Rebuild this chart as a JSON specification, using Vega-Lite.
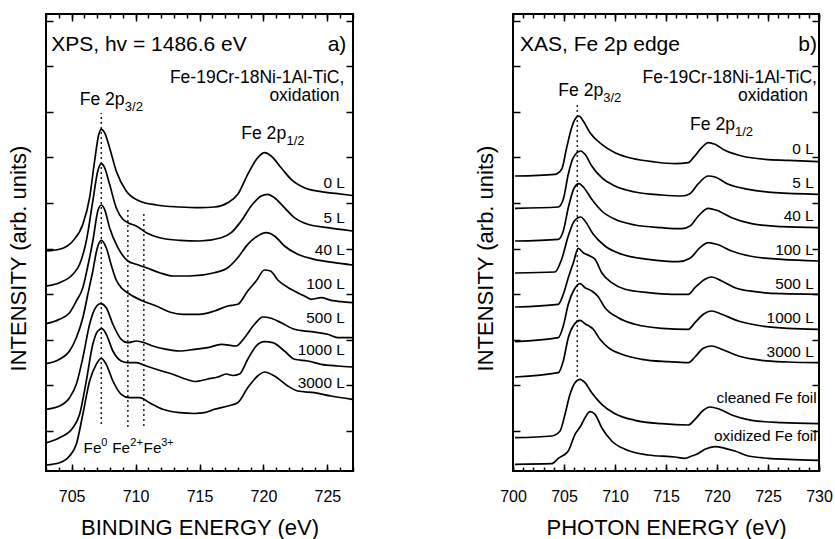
{
"$schema": "https://vega.github.io/schema/vega-lite/v6.json",
"background": "white",
"padding": {"left": 6, "top": 12, "right": 5, "bottom": 5},
"spacing": 160,
"bounds": "flush",
"config": {
  "font": "Liberation Sans",
  "view": {"stroke": "black", "strokeWidth": 2},
  "axis": {"domain": false, "grid": false, "tickColor": "black", "tickWidth": 1.5, "labelColor": "black", "titleColor": "black", "labelFont": "Liberation Sans", "titleFont": "Liberation Sans", "titleFontWeight": "normal"},
  "text": {"font": "Liberation Sans", "color": "black", "baseline": "alphabetic"}
},
"datasets": {
"xps": [
{"s":"0 L","e":703.02,"v":220},{"s":"0 L","e":704.06,"v":221.7},{"s":"0 L","e":705.10,"v":230},{"s":"0 L","e":705.88,"v":246.7},{"s":"0 L","e":706.41,"v":273.3},{"s":"0 L","e":706.80,"v":310},{"s":"0 L","e":707.13,"v":336.7},{"s":"0 L","e":707.32,"v":341.7},{"s":"0 L","e":707.58,"v":338.3},{"s":"0 L","e":707.97,"v":323.3},{"s":"0 L","e":708.49,"v":300},{"s":"0 L","e":709.27,"v":280},{"s":"0 L","e":710.31,"v":270},{"s":"0 L","e":711.62,"v":266},{"s":"0 L","e":713.44,"v":264},{"s":"0 L","e":715.00,"v":263.3},{"s":"0 L","e":716.17,"v":264},{"s":"0 L","e":717.21,"v":268.3},{"s":"0 L","e":717.99,"v":276.7},{"s":"0 L","e":718.77,"v":296.7},{"s":"0 L","e":719.55,"v":313.3},{"s":"0 L","e":720.08,"v":318.3},{"s":"0 L","e":720.60,"v":315},{"s":"0 L","e":721.38,"v":303.3},{"s":"0 L","e":722.16,"v":291.7},{"s":"0 L","e":723.20,"v":283.3},{"s":"0 L","e":724.51,"v":279.3},{"s":"0 L","e":725.80,"v":277.3},{"s":"0 L","e":726.95,"v":275.5},
{"s":"5 L","e":703.02,"v":185},{"s":"5 L","e":704.06,"v":188.3},{"s":"5 L","e":705.10,"v":196.7},{"s":"5 L","e":705.63,"v":206.7},{"s":"5 L","e":706.15,"v":230},{"s":"5 L","e":706.66,"v":270},{"s":"5 L","e":707.05,"v":300},{"s":"5 L","e":707.32,"v":307.3},{"s":"5 L","e":707.58,"v":303.3},{"s":"5 L","e":707.97,"v":286.7},{"s":"5 L","e":708.49,"v":263.3},{"s":"5 L","e":709.01,"v":251.7},{"s":"5 L","e":709.40,"v":248.3},{"s":"5 L","e":710.05,"v":245},{"s":"5 L","e":710.84,"v":238.3},{"s":"5 L","e":711.88,"v":233.3},{"s":"5 L","e":713.44,"v":230.7},{"s":"5 L","e":715.00,"v":230},{"s":"5 L","e":716.70,"v":233.3},{"s":"5 L","e":717.48,"v":238.3},{"s":"5 L","e":718.26,"v":250},{"s":"5 L","e":719.04,"v":265},{"s":"5 L","e":719.82,"v":275},{"s":"5 L","e":720.34,"v":276.7},{"s":"5 L","e":720.86,"v":273.3},{"s":"5 L","e":721.64,"v":263.3},{"s":"5 L","e":722.42,"v":253.3},{"s":"5 L","e":723.46,"v":246.7},{"s":"5 L","e":725.02,"v":243.3},{"s":"5 L","e":726.95,"v":240},
{"s":"40 L","e":703.02,"v":147.3},{"s":"40 L","e":704.06,"v":151.7},{"s":"40 L","e":704.84,"v":158.3},{"s":"40 L","e":705.37,"v":170},{"s":"40 L","e":705.88,"v":183.3},{"s":"40 L","e":706.27,"v":205},{"s":"40 L","e":706.66,"v":230},{"s":"40 L","e":707.05,"v":260},{"s":"40 L","e":707.32,"v":266},{"s":"40 L","e":707.58,"v":261.7},{"s":"40 L","e":707.97,"v":243.3},{"s":"40 L","e":708.62,"v":223.3},{"s":"40 L","e":709.40,"v":210},{"s":"40 L","e":710.05,"v":206.7},{"s":"40 L","e":710.84,"v":203.3},{"s":"40 L","e":711.88,"v":198.3},{"s":"40 L","e":712.91,"v":195},{"s":"40 L","e":714.22,"v":195},{"s":"40 L","e":716.17,"v":198.3},{"s":"40 L","e":717.21,"v":203.3},{"s":"40 L","e":717.99,"v":213.3},{"s":"40 L","e":718.77,"v":226.7},{"s":"40 L","e":719.55,"v":235},{"s":"40 L","e":720.21,"v":238.3},{"s":"40 L","e":720.86,"v":235},{"s":"40 L","e":721.64,"v":225},{"s":"40 L","e":722.68,"v":216.7},{"s":"40 L","e":723.98,"v":211.7},{"s":"40 L","e":725.55,"v":208.3},{"s":"40 L","e":726.95,"v":206},
{"s":"100 L","e":703.02,"v":107.3},{"s":"100 L","e":704.06,"v":111.7},{"s":"100 L","e":704.84,"v":120},{"s":"100 L","e":705.37,"v":133.3},{"s":"100 L","e":705.88,"v":153.3},{"s":"100 L","e":706.27,"v":176.7},{"s":"100 L","e":706.66,"v":200},{"s":"100 L","e":706.99,"v":222},{"s":"100 L","e":707.32,"v":230.7},{"s":"100 L","e":707.71,"v":223.3},{"s":"100 L","e":708.10,"v":206},{"s":"100 L","e":708.49,"v":191},{"s":"100 L","e":708.91,"v":183},{"s":"100 L","e":709.40,"v":178},{"s":"100 L","e":710.57,"v":170},{"s":"100 L","e":711.62,"v":165},{"s":"100 L","e":712.66,"v":159},{"s":"100 L","e":713.70,"v":156.7},{"s":"100 L","e":715.00,"v":156.7},{"s":"100 L","e":716.17,"v":160},{"s":"100 L","e":717.21,"v":165},{"s":"100 L","e":717.99,"v":166.7},{"s":"100 L","e":718.77,"v":180},{"s":"100 L","e":719.43,"v":190},{"s":"100 L","e":720.08,"v":201},{"s":"100 L","e":720.55,"v":200},{"s":"100 L","e":721.12,"v":191},{"s":"100 L","e":722.16,"v":181.7},{"s":"100 L","e":723.20,"v":175},{"s":"100 L","e":723.73,"v":171.7},{"s":"100 L","e":724.51,"v":173.3},{"s":"100 L","e":725.29,"v":170.7},{"s":"100 L","e":726.07,"v":169.3},{"s":"100 L","e":726.95,"v":168.3},
{"s":"500 L","e":703.02,"v":61.7},{"s":"500 L","e":704.06,"v":65},{"s":"500 L","e":704.84,"v":73.3},{"s":"500 L","e":705.37,"v":86.7},{"s":"500 L","e":705.88,"v":113.3},{"s":"500 L","e":706.41,"v":146.7},{"s":"500 L","e":706.80,"v":161.7},{"s":"500 L","e":707.27,"v":167.3},{"s":"500 L","e":707.71,"v":163.3},{"s":"500 L","e":708.23,"v":146.7},{"s":"500 L","e":708.88,"v":131.7},{"s":"500 L","e":709.40,"v":128.3},{"s":"500 L","e":710.05,"v":130},{"s":"500 L","e":710.70,"v":128.3},{"s":"500 L","e":711.35,"v":125},{"s":"500 L","e":712.40,"v":121.7},{"s":"500 L","e":713.44,"v":120},{"s":"500 L","e":714.61,"v":121.7},{"s":"500 L","e":715.65,"v":123.3},{"s":"500 L","e":716.70,"v":126.7},{"s":"500 L","e":717.87,"v":125},{"s":"500 L","e":718.52,"v":133.3},{"s":"500 L","e":719.30,"v":146.7},{"s":"500 L","e":719.95,"v":154},{"s":"500 L","e":720.60,"v":152.7},{"s":"500 L","e":721.38,"v":148.3},{"s":"500 L","e":722.42,"v":141.7},{"s":"500 L","e":723.73,"v":139.3},{"s":"500 L","e":725.02,"v":136.7},{"s":"500 L","e":725.80,"v":133.3},{"s":"500 L","e":726.95,"v":133.3},
{"s":"1000 L","e":703.02,"v":28.3},{"s":"1000 L","e":704.06,"v":33.3},{"s":"1000 L","e":705.10,"v":43.3},{"s":"1000 L","e":705.63,"v":56.7},{"s":"1000 L","e":706.15,"v":90},{"s":"1000 L","e":706.66,"v":126.7},{"s":"1000 L","e":707.05,"v":140},{"s":"1000 L","e":707.37,"v":142.3},{"s":"1000 L","e":707.71,"v":136.7},{"s":"1000 L","e":708.23,"v":120},{"s":"1000 L","e":708.88,"v":110},{"s":"1000 L","e":709.40,"v":108.3},{"s":"1000 L","e":710.05,"v":108.3},{"s":"1000 L","e":710.84,"v":105},{"s":"1000 L","e":711.62,"v":101.7},{"s":"1000 L","e":712.91,"v":96.7},{"s":"1000 L","e":713.96,"v":91.7},{"s":"1000 L","e":714.61,"v":89.5},{"s":"1000 L","e":715.65,"v":92},{"s":"1000 L","e":716.43,"v":94},{"s":"1000 L","e":717.09,"v":97},{"s":"1000 L","e":717.60,"v":95.5},{"s":"1000 L","e":718.13,"v":97},{"s":"1000 L","e":718.77,"v":111.7},{"s":"1000 L","e":719.43,"v":125},{"s":"1000 L","e":720.08,"v":129.3},{"s":"1000 L","e":720.73,"v":128.3},{"s":"1000 L","e":721.64,"v":120},{"s":"1000 L","e":722.42,"v":111.7},{"s":"1000 L","e":723.46,"v":110},{"s":"1000 L","e":724.51,"v":106.7},{"s":"1000 L","e":725.80,"v":105},{"s":"1000 L","e":726.95,"v":104},
{"s":"3000 L","e":703.02,"v":6},{"s":"3000 L","e":704.06,"v":8.3},{"s":"3000 L","e":704.84,"v":15},{"s":"3000 L","e":705.37,"v":26.7},{"s":"3000 L","e":705.88,"v":56.7},{"s":"3000 L","e":706.41,"v":90},{"s":"3000 L","e":706.93,"v":106.7},{"s":"3000 L","e":707.32,"v":112.7},{"s":"3000 L","e":707.71,"v":106.7},{"s":"3000 L","e":708.23,"v":90},{"s":"3000 L","e":708.88,"v":76.7},{"s":"3000 L","e":709.53,"v":73.3},{"s":"3000 L","e":710.31,"v":73.3},{"s":"3000 L","e":711.09,"v":68.3},{"s":"3000 L","e":712.13,"v":61.7},{"s":"3000 L","e":713.44,"v":58.3},{"s":"3000 L","e":714.61,"v":57.5},{"s":"3000 L","e":715.39,"v":58.3},{"s":"3000 L","e":716.17,"v":61.7},{"s":"3000 L","e":717.21,"v":65},{"s":"3000 L","e":717.99,"v":68.3},{"s":"3000 L","e":718.77,"v":83.3},{"s":"3000 L","e":719.55,"v":95},{"s":"3000 L","e":720.08,"v":99},{"s":"3000 L","e":720.86,"v":95},{"s":"3000 L","e":721.90,"v":85},{"s":"3000 L","e":722.68,"v":80},{"s":"3000 L","e":723.98,"v":78.3},{"s":"3000 L","e":725.29,"v":75},{"s":"3000 L","e":726.95,"v":71.7}
],
"xas": [
{"s":"0 L","e":700.2,"v":295},{"s":"0 L","e":704.12,"v":296.7},{"s":"0 L","e":704.77,"v":301.7},{"s":"0 L","e":705.26,"v":323.3},{"s":"0 L","e":705.75,"v":343.3},{"s":"0 L","e":706.08,"v":351.7},{"s":"0 L","e":706.47,"v":355},{"s":"0 L","e":706.89,"v":350},{"s":"0 L","e":707.55,"v":338.3},{"s":"0 L","e":708.70,"v":326.7},{"s":"0 L","e":710.00,"v":318.3},{"s":"0 L","e":711.64,"v":312.7},{"s":"0 L","e":713.92,"v":309},{"s":"0 L","e":715.88,"v":307.3},{"s":"0 L","e":717.19,"v":308.3},{"s":"0 L","e":717.68,"v":313.3},{"s":"0 L","e":718.50,"v":323.3},{"s":"0 L","e":719.15,"v":328.3},{"s":"0 L","e":719.80,"v":326.7},{"s":"0 L","e":720.78,"v":320.7},{"s":"0 L","e":722.42,"v":315},{"s":"0 L","e":724.71,"v":311.7},{"s":"0 L","e":726.99,"v":310.7},{"s":"0 L","e":729.95,"v":309.3},
{"s":"5 L","e":700.2,"v":262.7},{"s":"5 L","e":704.44,"v":264},{"s":"5 L","e":704.93,"v":271.7},{"s":"5 L","e":705.42,"v":296.7},{"s":"5 L","e":705.91,"v":313.3},{"s":"5 L","e":706.64,"v":320},{"s":"5 L","e":707.06,"v":316.7},{"s":"5 L","e":707.72,"v":305},{"s":"5 L","e":708.70,"v":293.3},{"s":"5 L","e":710.00,"v":285},{"s":"5 L","e":711.96,"v":279},{"s":"5 L","e":714.58,"v":276},{"s":"5 L","e":716.54,"v":275},{"s":"5 L","e":717.35,"v":277.3},{"s":"5 L","e":718.17,"v":287.3},{"s":"5 L","e":719.15,"v":295},{"s":"5 L","e":719.80,"v":294},{"s":"5 L","e":721.11,"v":286.7},{"s":"5 L","e":723.07,"v":281.7},{"s":"5 L","e":725.69,"v":278.3},{"s":"5 L","e":729.95,"v":276.7},
{"s":"40 L","e":700.2,"v":230},{"s":"40 L","e":704.44,"v":231.7},{"s":"40 L","e":704.93,"v":240},{"s":"40 L","e":705.42,"v":263.3},{"s":"40 L","e":706.01,"v":283.3},{"s":"40 L","e":706.47,"v":287.3},{"s":"40 L","e":706.89,"v":284},{"s":"40 L","e":707.72,"v":271.7},{"s":"40 L","e":708.70,"v":260},{"s":"40 L","e":710.00,"v":251.7},{"s":"40 L","e":711.96,"v":246},{"s":"40 L","e":714.58,"v":243.3},{"s":"40 L","e":716.54,"v":242.3},{"s":"40 L","e":717.35,"v":245},{"s":"40 L","e":718.17,"v":255},{"s":"40 L","e":719.15,"v":262.7},{"s":"40 L","e":719.97,"v":260.7},{"s":"40 L","e":721.44,"v":253.3},{"s":"40 L","e":723.40,"v":247.3},{"s":"40 L","e":726.34,"v":244.3},{"s":"40 L","e":729.95,"v":243.3},
{"s":"100 L","e":700.2,"v":198},{"s":"100 L","e":704.12,"v":199},{"s":"100 L","e":704.77,"v":211.7},{"s":"100 L","e":705.42,"v":235},{"s":"100 L","e":706.01,"v":250},{"s":"100 L","e":706.64,"v":254},{"s":"100 L","e":707.06,"v":250},{"s":"100 L","e":707.87,"v":236.7},{"s":"100 L","e":709.02,"v":225},{"s":"100 L","e":710.66,"v":216.7},{"s":"100 L","e":713.26,"v":211.7},{"s":"100 L","e":716.21,"v":209.3},{"s":"100 L","e":717.35,"v":212.7},{"s":"100 L","e":718.33,"v":223.3},{"s":"100 L","e":719.15,"v":228.3},{"s":"100 L","e":719.97,"v":226.7},{"s":"100 L","e":721.44,"v":220},{"s":"100 L","e":723.73,"v":214},{"s":"100 L","e":726.34,"v":211.7},{"s":"100 L","e":729.95,"v":210},
{"s":"500 L","e":700.2,"v":164},{"s":"500 L","e":704.44,"v":166.7},{"s":"500 L","e":704.93,"v":176.7},{"s":"500 L","e":705.42,"v":193.3},{"s":"500 L","e":705.91,"v":208},{"s":"500 L","e":706.40,"v":222.7},{"s":"500 L","e":706.89,"v":218.3},{"s":"500 L","e":707.55,"v":215},{"s":"500 L","e":708.04,"v":211.7},{"s":"500 L","e":708.70,"v":198.3},{"s":"500 L","e":709.68,"v":188.3},{"s":"500 L","e":710.98,"v":181.7},{"s":"500 L","e":713.26,"v":178.3},{"s":"500 L","e":715.56,"v":176.7},{"s":"500 L","e":717.19,"v":176.7},{"s":"500 L","e":717.84,"v":183.3},{"s":"500 L","e":718.82,"v":191.7},{"s":"500 L","e":719.48,"v":194},{"s":"500 L","e":720.46,"v":190},{"s":"500 L","e":721.76,"v":183.3},{"s":"500 L","e":723.73,"v":179.3},{"s":"500 L","e":726.34,"v":177.3},{"s":"500 L","e":729.95,"v":176.7},
{"s":"1000 L","e":700.2,"v":129.3},{"s":"1000 L","e":704.44,"v":133.3},{"s":"1000 L","e":704.93,"v":145},{"s":"1000 L","e":705.42,"v":166.7},{"s":"1000 L","e":706.01,"v":181.7},{"s":"1000 L","e":706.57,"v":187.3},{"s":"1000 L","e":707.06,"v":183.3},{"s":"1000 L","e":707.72,"v":180},{"s":"1000 L","e":708.30,"v":175},{"s":"1000 L","e":709.02,"v":163.3},{"s":"1000 L","e":710.32,"v":153.3},{"s":"1000 L","e":711.96,"v":146.7},{"s":"1000 L","e":714.58,"v":142.7},{"s":"1000 L","e":717.19,"v":141.7},{"s":"1000 L","e":717.84,"v":148.3},{"s":"1000 L","e":718.66,"v":156.7},{"s":"1000 L","e":719.48,"v":160},{"s":"1000 L","e":720.46,"v":156.7},{"s":"1000 L","e":722.09,"v":150},{"s":"1000 L","e":724.38,"v":145},{"s":"1000 L","e":726.99,"v":142.7},{"s":"1000 L","e":729.95,"v":141.7},
{"s":"3000 L","e":700.2,"v":94},{"s":"3000 L","e":704.44,"v":98.3},{"s":"3000 L","e":704.93,"v":110},{"s":"3000 L","e":705.42,"v":133.3},{"s":"3000 L","e":706.01,"v":146.7},{"s":"3000 L","e":706.57,"v":150.7},{"s":"3000 L","e":707.06,"v":147.3},{"s":"3000 L","e":707.87,"v":141.7},{"s":"3000 L","e":708.53,"v":131.7},{"s":"3000 L","e":709.34,"v":123.3},{"s":"3000 L","e":710.66,"v":116.7},{"s":"3000 L","e":712.62,"v":111.7},{"s":"3000 L","e":715.23,"v":109.3},{"s":"3000 L","e":717.19,"v":108.3},{"s":"3000 L","e":717.84,"v":114},{"s":"3000 L","e":718.66,"v":122.7},{"s":"3000 L","e":719.48,"v":125},{"s":"3000 L","e":720.46,"v":121.7},{"s":"3000 L","e":722.09,"v":115},{"s":"3000 L","e":724.38,"v":110.7},{"s":"3000 L","e":726.99,"v":109},{"s":"3000 L","e":729.95,"v":108.3},
{"s":"cleaned","e":700.2,"v":33.3},{"s":"cleaned","e":703.79,"v":35},{"s":"cleaned","e":704.61,"v":40},{"s":"cleaned","e":705.10,"v":56.7},{"s":"cleaned","e":705.59,"v":76.7},{"s":"cleaned","e":706.08,"v":88.3},{"s":"cleaned","e":706.57,"v":91.7},{"s":"cleaned","e":707.06,"v":88.3},{"s":"cleaned","e":707.72,"v":78.3},{"s":"cleaned","e":708.70,"v":66.7},{"s":"cleaned","e":710.00,"v":57.3},{"s":"cleaned","e":711.96,"v":50.7},{"s":"cleaned","e":714.58,"v":47.3},{"s":"cleaned","e":717.19,"v":46},{"s":"cleaned","e":717.84,"v":51.7},{"s":"cleaned","e":718.66,"v":60.7},{"s":"cleaned","e":719.31,"v":64},{"s":"cleaned","e":720.13,"v":62.3},{"s":"cleaned","e":721.44,"v":56},{"s":"cleaned","e":723.40,"v":50.7},{"s":"cleaned","e":726.34,"v":48.3},{"s":"cleaned","e":729.95,"v":47.3},
{"s":"oxidized","e":700.2,"v":6.7},{"s":"oxidized","e":703.79,"v":7.3},{"s":"oxidized","e":704.44,"v":12.7},{"s":"oxidized","e":705.42,"v":20},{"s":"oxidized","e":706.08,"v":36.7},{"s":"oxidized","e":706.64,"v":45},{"s":"oxidized","e":707.06,"v":53.3},{"s":"oxidized","e":707.55,"v":59.3},{"s":"oxidized","e":708.04,"v":56.7},{"s":"oxidized","e":708.70,"v":43.3},{"s":"oxidized","e":709.68,"v":30},{"s":"oxidized","e":710.98,"v":21.7},{"s":"oxidized","e":713.26,"v":16},{"s":"oxidized","e":715.88,"v":14},{"s":"oxidized","e":716.86,"v":12.7},{"s":"oxidized","e":717.52,"v":15},{"s":"oxidized","e":718.01,"v":16.7},{"s":"oxidized","e":718.82,"v":21.7},{"s":"oxidized","e":719.80,"v":24.3},{"s":"oxidized","e":720.78,"v":22.7},{"s":"oxidized","e":721.76,"v":20},{"s":"oxidized","e":723.07,"v":15},{"s":"oxidized","e":725.03,"v":12.7},{"s":"oxidized","e":726.99,"v":11.7},{"s":"oxidized","e":729.95,"v":10.7}
],
"dots": [
{"p":"a","e":707.32,"v1":47,"v2":358},{"p":"a","e":709.40,"v1":44,"v2":263},{"p":"a","e":710.65,"v1":45,"v2":257},
{"p":"b","e":706.3,"v1":94,"v2":367}
],
"ann": [
{"p":"a","k":"big","e":703.41,"v":420,"t":"XPS, hv = 1486.6 eV"},
{"p":"a","k":"big","e":725.02,"v":420,"t":"a)"},
{"p":"a","k":"hdr","e":726.32,"v":388.5,"t":"Fe-19Cr-18Ni-1Al-TiC,"},
{"p":"a","k":"hdr","e":725.94,"v":370,"t":"oxidation"},
{"p":"a","k":"lab","e":726.36,"v":282.7,"t":"0 L"},
{"p":"a","k":"lab","e":726.36,"v":248.3,"t":"5 L"},
{"p":"a","k":"lab","e":726.36,"v":216,"t":"40 L"},
{"p":"a","k":"lab","e":726.36,"v":181.7,"t":"100 L"},
{"p":"a","k":"lab","e":726.36,"v":148.3,"t":"500 L"},
{"p":"a","k":"lab","e":726.36,"v":116,"t":"1000 L"},
{"p":"a","k":"lab","e":726.36,"v":82.7,"t":"3000 L"},
{"p":"a","k":"fe","e":705.63,"v":366.5,"t":"Fe 2p"},
{"p":"a","k":"sub","e":709.16,"v":360.5,"t":"3/2"},
{"p":"a","k":"fe","e":718.26,"v":332.5,"t":"Fe 2p"},
{"p":"a","k":"sub","e":721.8,"v":326.5,"t":"1/2"},
{"p":"a","k":"fe2","e":705.94,"v":18.3,"t":"Fe"},
{"p":"a","k":"fe2","e":708.18,"v":18.3,"t":"Fe"},
{"p":"a","k":"fe2","e":710.63,"v":18.3,"t":"Fe"},
{"p":"a","k":"sup","e":707.32,"v":25,"t":"0"},
{"p":"a","k":"sup","e":709.59,"v":25,"t":"2+"},
{"p":"a","k":"sup","e":712.01,"v":25,"t":"3+"},
{"p":"b","k":"big","e":700.69,"v":420,"t":"XAS, Fe 2p edge"},
{"p":"b","k":"big","e":727.97,"v":420,"t":"b)"},
{"p":"b","k":"hdr","e":729.80,"v":388.5,"t":"Fe-19Cr-18Ni-1Al-TiC,"},
{"p":"b","k":"hdr","e":728.92,"v":370,"t":"oxidation"},
{"p":"b","k":"lab","e":729.48,"v":317.3,"t":"0 L"},
{"p":"b","k":"lab","e":729.48,"v":283.3,"t":"5 L"},
{"p":"b","k":"lab","e":729.48,"v":250,"t":"40 L"},
{"p":"b","k":"lab","e":729.48,"v":216,"t":"100 L"},
{"p":"b","k":"lab","e":729.48,"v":181.7,"t":"500 L"},
{"p":"b","k":"lab","e":729.48,"v":148.3,"t":"1000 L"},
{"p":"b","k":"lab","e":729.48,"v":114.3,"t":"3000 L"},
{"p":"b","k":"lab","e":729.77,"v":67.7,"t":"cleaned Fe foil"},
{"p":"b","k":"lab","e":729.77,"v":30,"t":"oxidized Fe foil"},
{"p":"b","k":"fe","e":704.44,"v":375,"t":"Fe 2p"},
{"p":"b","k":"sub","e":708.85,"v":369,"t":"3/2"},
{"p":"b","k":"fe","e":717.35,"v":341.5,"t":"Fe 2p"},
{"p":"b","k":"sub","e":721.76,"v":335.5,"t":"1/2"}
]
},
"hconcat": [
{
  "width": 307, "height": 457,
  "resolve": {"axis": {"x": "independent", "y": "independent"}},
  "layer": [
    {"data": {"name": "dots"}, "transform": [{"filter": "datum.p == 'a'"}],
     "mark": {"type": "rule", "strokeDash": [2, 3], "strokeWidth": 1.3, "color": "black"},
     "encoding": {
       "x": {"field": "e", "type": "quantitative", "scale": {"domain": [703, 727], "nice": false, "zero": false}, "axis": {"orient": "top", "values": [705, 710, 715, 720, 725], "tickSize": -7, "labels": false, "title": null}},
       "y": {"field": "v1", "type": "quantitative", "scale": {"domain": [0, 457], "nice": false, "zero": false}, "axis": {"orient": "right", "values": [40, 85.6, 131.2, 176.8, 222.4, 268, 313.6, 359.2, 404.8, 450.4], "tickSize": -7, "labels": false, "title": null}},
       "y2": {"field": "v2"}
     }},
    {"data": {"name": "xps"},
     "mark": {"type": "line", "interpolate": "monotone", "color": "black", "strokeWidth": 1.7},
     "encoding": {
       "x": {"field": "e", "type": "quantitative", "scale": {"domain": [703, 727], "nice": false, "zero": false}, "axis": {"orient": "bottom", "values": [705, 710, 715, 720, 725], "tickSize": -7, "labelFontSize": 16, "labelBaseline": "alphabetic", "labelPadding": 37, "labelFlush": false, "title": "BINDING ENERGY (eV)", "titleFontSize": 22, "titleBaseline": "alphabetic", "titleY": 63.5}},
       "y": {"field": "v", "type": "quantitative", "scale": {"domain": [0, 457], "nice": false, "zero": false}, "axis": {"orient": "left", "values": [40, 85.6, 131.2, 176.8, 222.4, 268, 313.6, 359.2, 404.8, 450.4], "tickSize": -7, "labels": false, "title": "INTENSITY (arb. units)", "titleFontSize": 22, "titleBaseline": "alphabetic", "titleX": -21, "titleY": 244}},
       "detail": {"field": "s"}
     }},
    {"data": {"name": "ann"}, "transform": [{"filter": "datum.p == 'a' && datum.k == 'big'"}],
     "mark": {"type": "text", "align": "left", "fontSize": 21},
     "encoding": {
       "x": {"field": "e", "type": "quantitative", "scale": {"domain": [703, 727], "nice": false, "zero": false}, "axis": {"orient": "bottom", "values": [703,704,705,706,707,708,709,710,711,712,713,714,715,716,717,718,719,720,721,722,723,724,725,726,727], "tickSize": -4, "labels": false, "title": null}},
       "y": {"field": "v", "type": "quantitative", "scale": {"domain": [0, 457], "nice": false, "zero": false}, "axis": null},
       "text": {"field": "t"}
     }},
    {"data": {"name": "ann"}, "transform": [{"filter": "datum.p == 'a' && datum.k == 'hdr'"}],
     "mark": {"type": "text", "align": "right", "fontSize": 17.5},
     "encoding": {
       "x": {"field": "e", "type": "quantitative", "scale": {"domain": [703, 727], "nice": false, "zero": false}, "axis": {"orient": "top", "values": [703,704,705,706,707,708,709,710,711,712,713,714,715,716,717,718,719,720,721,722,723,724,725,726,727], "tickSize": -4, "labels": false, "title": null}},
       "y": {"field": "v", "type": "quantitative", "scale": {"domain": [0, 457], "nice": false, "zero": false}, "axis": null},
       "text": {"field": "t"}
     }},
    {"data": {"name": "ann"}, "transform": [{"filter": "datum.p == 'a' && datum.k == 'lab'"}],
     "mark": {"type": "text", "align": "right", "fontSize": 15.4},
     "encoding": {
       "x": {"field": "e", "type": "quantitative", "scale": {"domain": [703, 727], "nice": false, "zero": false}, "axis": null},
       "y": {"field": "v", "type": "quantitative", "scale": {"domain": [0, 457], "nice": false, "zero": false}, "axis": null},
       "text": {"field": "t"}
     }},
    {"data": {"name": "ann"}, "transform": [{"filter": "datum.p == 'a' && datum.k == 'fe'"}],
     "mark": {"type": "text", "align": "left", "fontSize": 17.6},
     "encoding": {
       "x": {"field": "e", "type": "quantitative", "scale": {"domain": [703, 727], "nice": false, "zero": false}, "axis": null},
       "y": {"field": "v", "type": "quantitative", "scale": {"domain": [0, 457], "nice": false, "zero": false}, "axis": null},
       "text": {"field": "t"}
     }},
    {"data": {"name": "ann"}, "transform": [{"filter": "datum.p == 'a' && datum.k == 'sub'"}],
     "mark": {"type": "text", "align": "left", "fontSize": 13},
     "encoding": {
       "x": {"field": "e", "type": "quantitative", "scale": {"domain": [703, 727], "nice": false, "zero": false}, "axis": null},
       "y": {"field": "v", "type": "quantitative", "scale": {"domain": [0, 457], "nice": false, "zero": false}, "axis": null},
       "text": {"field": "t"}
     }},
    {"data": {"name": "ann"}, "transform": [{"filter": "datum.p == 'a' && datum.k == 'fe2'"}],
     "mark": {"type": "text", "align": "left", "fontSize": 15.3},
     "encoding": {
       "x": {"field": "e", "type": "quantitative", "scale": {"domain": [703, 727], "nice": false, "zero": false}, "axis": null},
       "y": {"field": "v", "type": "quantitative", "scale": {"domain": [0, 457], "nice": false, "zero": false}, "axis": null},
       "text": {"field": "t"}
     }},
    {"data": {"name": "ann"}, "transform": [{"filter": "datum.p == 'a' && datum.k == 'sup'"}],
     "mark": {"type": "text", "align": "left", "fontSize": 11},
     "encoding": {
       "x": {"field": "e", "type": "quantitative", "scale": {"domain": [703, 727], "nice": false, "zero": false}, "axis": null},
       "y": {"field": "v", "type": "quantitative", "scale": {"domain": [0, 457], "nice": false, "zero": false}, "axis": null},
       "text": {"field": "t"}
     }}
  ]
},
{
  "width": 306, "height": 457,
  "resolve": {"axis": {"x": "independent", "y": "independent"}},
  "layer": [
    {"data": {"name": "dots"}, "transform": [{"filter": "datum.p == 'b'"}],
     "mark": {"type": "rule", "strokeDash": [2, 3], "strokeWidth": 1.3, "color": "black"},
     "encoding": {
       "x": {"field": "e", "type": "quantitative", "scale": {"domain": [700, 730], "nice": false, "zero": false}, "axis": {"orient": "top", "values": [700, 705, 710, 715, 720, 725, 730], "tickSize": -7, "labels": false, "title": null}},
       "y": {"field": "v1", "type": "quantitative", "scale": {"domain": [0, 457], "nice": false, "zero": false}, "axis": {"orient": "right", "values": [40, 85.6, 131.2, 176.8, 222.4, 268, 313.6, 359.2, 404.8, 450.4], "tickSize": -7, "labels": false, "title": null}},
       "y2": {"field": "v2"}
     }},
    {"data": {"name": "xas"},
     "mark": {"type": "line", "interpolate": "monotone", "color": "black", "strokeWidth": 1.7},
     "encoding": {
       "x": {"field": "e", "type": "quantitative", "scale": {"domain": [700, 730], "nice": false, "zero": false}, "axis": {"orient": "bottom", "values": [700, 705, 710, 715, 720, 725, 730], "tickSize": -7, "labelFontSize": 16, "labelBaseline": "alphabetic", "labelPadding": 37, "labelFlush": false, "title": "PHOTON ENERGY (eV)", "titleFontSize": 22, "titleBaseline": "alphabetic", "titleY": 63.5}},
       "y": {"field": "v", "type": "quantitative", "scale": {"domain": [0, 457], "nice": false, "zero": false}, "axis": {"orient": "left", "values": [40, 85.6, 131.2, 176.8, 222.4, 268, 313.6, 359.2, 404.8, 450.4], "tickSize": -7, "labels": false, "title": "INTENSITY (arb. units)", "titleFontSize": 22, "titleBaseline": "alphabetic", "titleX": -21, "titleY": 244}},
       "detail": {"field": "s"}
     }},
    {"data": {"name": "ann"}, "transform": [{"filter": "datum.p == 'b' && datum.k == 'big'"}],
     "mark": {"type": "text", "align": "left", "fontSize": 21},
     "encoding": {
       "x": {"field": "e", "type": "quantitative", "scale": {"domain": [700, 730], "nice": false, "zero": false}, "axis": {"orient": "bottom", "values": [700,701,702,703,704,705,706,707,708,709,710,711,712,713,714,715,716,717,718,719,720,721,722,723,724,725,726,727,728,729,730], "tickSize": -4, "labels": false, "title": null}},
       "y": {"field": "v", "type": "quantitative", "scale": {"domain": [0, 457], "nice": false, "zero": false}, "axis": null},
       "text": {"field": "t"}
     }},
    {"data": {"name": "ann"}, "transform": [{"filter": "datum.p == 'b' && datum.k == 'hdr'"}],
     "mark": {"type": "text", "align": "right", "fontSize": 17.5},
     "encoding": {
       "x": {"field": "e", "type": "quantitative", "scale": {"domain": [700, 730], "nice": false, "zero": false}, "axis": {"orient": "top", "values": [700,701,702,703,704,705,706,707,708,709,710,711,712,713,714,715,716,717,718,719,720,721,722,723,724,725,726,727,728,729,730], "tickSize": -4, "labels": false, "title": null}},
       "y": {"field": "v", "type": "quantitative", "scale": {"domain": [0, 457], "nice": false, "zero": false}, "axis": null},
       "text": {"field": "t"}
     }},
    {"data": {"name": "ann"}, "transform": [{"filter": "datum.p == 'b' && datum.k == 'lab'"}],
     "mark": {"type": "text", "align": "right", "fontSize": 15.4},
     "encoding": {
       "x": {"field": "e", "type": "quantitative", "scale": {"domain": [700, 730], "nice": false, "zero": false}, "axis": null},
       "y": {"field": "v", "type": "quantitative", "scale": {"domain": [0, 457], "nice": false, "zero": false}, "axis": null},
       "text": {"field": "t"}
     }},
    {"data": {"name": "ann"}, "transform": [{"filter": "datum.p == 'b' && datum.k == 'fe'"}],
     "mark": {"type": "text", "align": "left", "fontSize": 17.6},
     "encoding": {
       "x": {"field": "e", "type": "quantitative", "scale": {"domain": [700, 730], "nice": false, "zero": false}, "axis": null},
       "y": {"field": "v", "type": "quantitative", "scale": {"domain": [0, 457], "nice": false, "zero": false}, "axis": null},
       "text": {"field": "t"}
     }},
    {"data": {"name": "ann"}, "transform": [{"filter": "datum.p == 'b' && datum.k == 'sub'"}],
     "mark": {"type": "text", "align": "left", "fontSize": 13},
     "encoding": {
       "x": {"field": "e", "type": "quantitative", "scale": {"domain": [700, 730], "nice": false, "zero": false}, "axis": null},
       "y": {"field": "v", "type": "quantitative", "scale": {"domain": [0, 457], "nice": false, "zero": false}, "axis": null},
       "text": {"field": "t"}
     }}
  ]
}
]
}
